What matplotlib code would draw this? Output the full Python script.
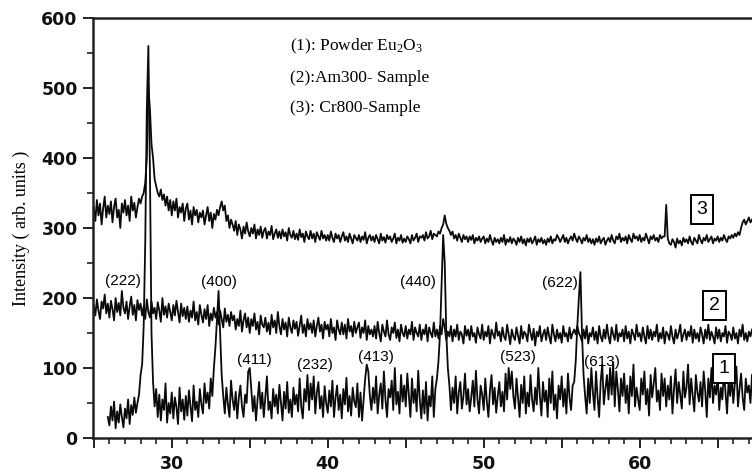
import numpy as np
import matplotlib
matplotlib.use("Agg")
import matplotlib.pyplot as plt
from matplotlib.ticker import MultipleLocator, FuncFormatter

nan = np.nan
# 2-theta grid: 25.0 .. 67.2 in 0.1 deg steps
two_theta = np.round(np.arange(250, 673) / 10.0, 1)

# (1) Powder Eu2O3
s1 = [
    nan, nan, nan, nan, nan, nan, nan, nan, nan, 30,
    18, 45, 25, 52, 14, 38, 22, 48, 30, 15,
    42, 28, 55, 20, 47, 33, 58, 36, 50, 62,
    90, 105, 160, 280, 470, 560, 380, 150, 80, 45,
    70, 30, 62, 25, 55, 40, 78, 22, 50, 35,
    65, 28, 58, 44, 20, 72, 38, 55, 26, 60,
    32, 68, 45, 24, 75, 40, 52, 30, 70, 48,
    35, 78, 50, 65, 42, 85, 60, 100, 130, 170,
    210, 150, 90, 60, 35, 72, 48, 30, 82, 55,
    40, 66, 28, 58, 75, 45, 30, 62, 50, 95,
    100, 70, 38, 60, 25, 55, 80, 42, 65, 30,
    58, 88, 40, 52, 28, 70, 45, 62, 35, 76,
    50, 25, 66, 42, 80, 36, 55, 30, 72, 48,
    62, 38, 85, 45, 28, 70, 52, 90, 40, 78,
    55, 88, 35, 65, 80, 42, 60, 30, 74, 50,
    36, 68, 45, 82, 30, 58, 75, 40, 62, 28,
    70, 48, 86, 38, 60, 32, 72, 52, 44, 78,
    30, 65, 25, 55, 85, 105, 95, 60, 40, 72,
    50, 88, 35, 62, 78, 42, 95, 55, 30, 70,
    58, 82, 40, 100, 48, 66, 35, 90, 52, 75,
    45, 92, 60, 30, 85, 50, 70, 38, 96, 55,
    28, 68, 35, 80, 25, 60, 45, 88, 30, 70,
    85, 110, 150, 220, 290, 250, 150, 100, 75, 40,
    72, 50, 88, 35, 65, 80, 42, 60, 92, 48,
    70, 38, 58, 82, 45, 96, 55, 35, 75, 62,
    40, 85, 52, 30, 68, 90, 48, 72, 36, 60,
    80, 45, 66, 38, 92, 55, 100, 70, 95, 60,
    42, 85, 58, 30, 76, 50, 88, 35, 65, 45,
    90, 55, 38, 72, 48, 100, 60, 32, 80, 52,
    68, 30, 85, 50, 95, 40, 62, 28, 75, 55,
    88, 45, 70, 35, 92, 58, 40, 75, 80, 110,
    160, 200, 237, 150, 90, 60, 35, 85, 50, 100,
    65, 40, 95, 58, 30, 82, 105, 48, 70, 90,
    55, 100, 62, 108, 45, 95, 70, 38, 85, 60,
    92, 50, 75, 35, 88, 60, 105, 45, 72, 55,
    40, 85, 62, 95, 48, 70, 32, 90, 58, 78,
    100, 52, 68, 40, 92, 60, 85, 45, 75, 55,
    88, 35, 70, 98, 50, 80, 62, 42, 95, 58,
    72, 105, 48, 85, 60, 38, 90, 65, 52, 80,
    45, 95, 68, 30, 85, 58, 100, 50, 75, 62,
    90, 40, 72, 55, 98, 65, 35, 82, 60, 88,
    50, 78, 102, 45, 70, 92, 58, 40, 85, 65,
    75, 50, 90,
]

# (2) Am300- Sample
s2 = [
    190, 175, 198, 182, 170, 195, 185, 205, 178, 192,
    172, 196, 184, 168, 200, 180, 193, 175, 210, 186,
    178, 195, 170, 188, 202, 176, 190, 168, 197, 183,
    192, 175, 188, 170, 198, 180, 172, 195, 178, 186,
    170, 194, 182, 166, 200, 176, 188, 172, 192, 180,
    168, 190, 175, 196, 180, 165, 192, 174, 186, 170,
    188, 166, 182, 172, 195, 168, 180, 162, 190, 176,
    165, 184, 170, 190, 160, 178, 168, 186, 172, 180,
    162, 182, 170, 158, 185, 166, 176, 160, 180, 168,
    175, 155, 170, 160, 182, 152, 168, 178, 158, 172,
    150, 170, 160, 178, 155, 166, 148, 175, 162, 158,
    172, 152, 165, 148, 176, 158, 168, 150, 180, 160,
    148, 170, 155, 165, 145, 172, 158, 150, 168, 156,
    166, 146, 160, 175, 150, 162, 145, 170, 155, 164,
    150, 168, 145, 160, 172, 152, 162, 142, 166, 155,
    162, 145, 170, 150, 158, 140, 168, 155, 148, 165,
    148, 162, 142, 170, 152, 160, 145, 166, 150, 158,
    165, 143, 158, 150, 168, 140, 160, 148, 155, 145,
    160, 142, 166, 150, 138, 162, 152, 145, 168, 148,
    140, 158, 150, 165, 143, 155, 138, 162, 150, 145,
    160, 142, 155, 148, 166, 140, 158, 150, 145, 162,
    140, 155, 148, 162, 138, 158, 150, 144, 165, 145,
    155, 142, 160, 148, 170, 158, 140, 152, 145, 160,
    138, 155, 145, 162, 140, 152, 148, 135, 160, 146,
    155, 140, 160, 145, 150, 136, 158, 148, 142, 162,
    140, 152, 145, 160, 135, 155, 148, 142, 165, 146,
    152, 138, 158, 145, 140, 162, 148, 134, 155, 145,
    140, 158, 146, 135, 160, 142, 152, 148, 138, 162,
    150, 140, 156, 132, 152, 145, 160, 138, 148, 155,
    140, 158, 145, 135, 162, 148, 138, 155, 142, 150,
    136, 160, 145, 150, 138, 158, 142, 150, 155, 148,
    160, 150, 145, 138, 155, 142, 160, 135, 150, 145,
    158, 140, 152, 135, 160, 145, 138, 155, 142, 162,
    145, 135, 158, 148, 140, 162, 138, 150, 145, 155,
    138, 160, 142, 152, 135, 155, 148, 140, 162, 145,
    150, 138, 158, 145, 135, 160, 142, 155, 140, 152,
    145, 162, 138, 150, 142, 158, 135, 152, 148, 140,
    160, 145, 135, 155, 142, 150, 162, 138, 148, 155,
    140, 152, 145, 160, 136, 155, 142, 150, 138, 158,
    148, 135, 155, 142, 162, 140, 152, 145, 135, 158,
    142, 155, 138, 150, 145, 160, 136, 152, 148, 140,
    158, 142, 150, 135, 155, 145, 162, 140, 150, 138,
    152, 145, 155,
]

# (3) Cr800-Sample
s3 = [
    330, 310, 340, 318, 335, 305, 328, 345, 315, 332,
    320, 338, 308, 330, 342, 315, 326, 300, 335, 322,
    340, 318, 332, 310, 345, 325, 336, 315, 330, 342,
    335, 345, 350, 365, 400, 500, 470, 420, 400, 370,
    360, 350, 345, 355, 340, 348, 332, 345, 325, 340,
    318, 338, 325, 342, 315, 330, 322, 335, 310, 328,
    335, 312, 325, 305, 330, 318, 326, 308, 322, 315,
    325, 305, 318, 330, 310, 322, 300, 320, 312, 326,
    318, 330, 338, 325, 332, 310, 318, 300, 312, 305,
    296, 310, 290, 305, 298, 285, 302, 292, 308, 295,
    288, 300, 292, 305, 285, 298, 290, 302, 286, 296,
    300, 285, 295, 290, 303, 284, 292, 298, 286, 295,
    285, 298, 288, 294, 282, 300, 290, 286, 296, 284,
    292, 283, 298, 287, 292, 280, 295, 288, 284, 296,
    285, 292, 280, 294, 288, 283, 296, 285, 290, 282,
    290, 282, 295, 286, 280, 292, 285, 290, 280, 288,
    294, 282, 288, 280, 292, 285, 278, 290, 286, 282,
    290, 280, 288, 283, 294, 278, 286, 290, 282, 288,
    280, 290, 284, 278, 292, 282, 287, 279, 290, 284,
    288, 280, 285, 292, 278, 286, 282, 290, 279, 285,
    280, 288, 284, 278, 290, 282, 286, 292, 280, 288,
    286, 290, 282, 294, 285, 288, 296, 284, 292, 290,
    288, 295, 292, 300, 305, 318, 306, 300, 296, 290,
    295, 285, 290, 282, 292, 286, 280, 290, 284, 288,
    280, 288, 283, 290, 278, 286, 282, 288, 280, 285,
    288, 278, 285, 280, 290, 282, 276, 286, 280, 284,
    278, 286, 280, 290, 276, 284, 280, 287, 278, 285,
    282, 276, 286, 280, 288, 278, 284, 275, 285, 280,
    286, 278, 282, 288, 276, 284, 280, 286, 278, 283,
    276, 285, 280, 288, 278, 284, 282, 290, 286, 280,
    285, 290, 280, 286, 278, 284, 288, 282, 292, 285,
    280, 288, 284, 278, 286, 282, 290, 280, 285, 278,
    284, 276, 285, 280, 288, 278, 283, 286, 276, 282,
    286, 280, 290, 282, 278, 288, 284, 292, 280, 286,
    282, 288, 278, 290, 284, 280, 292, 285, 288, 282,
    290, 280, 286, 282, 292, 285, 278, 288, 284, 290,
    282, 286, 280, 290, 285, 288, 288, 333, 285, 278,
    276, 284, 280, 272, 285, 278, 282, 275, 286, 280,
    284, 278, 288, 280, 276, 286, 282, 278, 290, 283,
    278, 286, 282, 290, 280, 284, 288, 278, 285, 282,
    288, 280, 286, 282, 290, 284, 280, 288, 285, 290,
    286, 292, 288, 294, 290, 300, 308, 312, 305, 310,
    315, 308, 312,
]

peak_labels = ["(222)", "(400)", "(411)", "(232)", "(413)", "(440)", "(523)", "(622)", "(613)"]
peak_label_x = [26.9, 33.0, 35.3, 39.2, 43.1, 45.8, 52.2, 54.9, 57.6]
peak_label_y = [224, 223, 111, 104, 116, 223, 116, 221, 108]

legend_lines = [r"(1): Powder Eu$_2$O$_3$", "(2):Am300- Sample", "(3): Cr800-Sample"]
legend_y = [560, 514, 472]
legend_x = 37.6

box_labels = ["1", "2", "3"]
box_x = [65.4, 64.8, 64.0]
box_y = [99, 189, 326]

plt.rcParams["mathtext.fontset"] = "custom"
plt.rcParams["mathtext.rm"] = "Liberation Serif"
plt.rcParams["mathtext.it"] = "Liberation Serif:italic"

fig = plt.figure(figsize=(7.52, 4.76), dpi=100)
ax = fig.add_axes([93 / 752, 1 - 438 / 476, 1 - 93 / 752, 420 / 476])

for s in (s1, s2, s3):
    ax.plot(two_theta, s, color="#0a0a0a", lw=1.3, zorder=2)

ax.set_xlim(24.95, 67.2)
ax.set_ylim(0, 600)

ax.xaxis.set_major_locator(MultipleLocator(5))
ax.xaxis.set_minor_locator(MultipleLocator(1))
ax.xaxis.set_major_formatter(FuncFormatter(lambda v, p: f"{int(round(v))}" if round(v) % 10 == 0 else ""))
ax.yaxis.set_major_locator(MultipleLocator(100))
ax.yaxis.set_minor_locator(MultipleLocator(50))

ax.tick_params(axis="both", which="major", direction="out", length=7, width=1.3,
               labelsize=12.5, colors="#111111")
ax.tick_params(axis="both", which="minor", direction="out", length=4, width=1.1, colors="#111111")
ax.tick_params(axis="x", which="major", pad=5)
ax.tick_params(axis="y", which="major", pad=4)
for lab in ax.get_xticklabels() + ax.get_yticklabels():
    lab.set_fontfamily("DejaVu Sans")
    lab.set_fontweight("bold")

ax.spines["right"].set_visible(False)
for sp in ("left", "top", "bottom"):
    ax.spines[sp].set_linewidth(1.8)
    ax.spines[sp].set_color("#222222")

ax.set_ylabel("Intensity ( arb. units )", family="Liberation Serif", fontsize=13)
ax.yaxis.set_label_coords(-63 / 659, 0.5)

for t, x, y in zip(peak_labels, peak_label_x, peak_label_y):
    ax.text(x, y, t, ha="center", va="center", family="Liberation Sans", fontsize=11, zorder=4)

for t, y in zip(legend_lines, legend_y):
    ax.text(legend_x, y, t, ha="left", va="center", family="Liberation Serif", fontsize=12.5)

for t, x, y in zip(box_labels, box_x, box_y):
    ax.text(x, y, t, ha="center", va="center", family="Liberation Sans", fontsize=14, zorder=5,
            bbox=dict(boxstyle="square,pad=0.3", facecolor="white", edgecolor="black", lw=1.4))

fig.savefig("out.png", dpi=100)
